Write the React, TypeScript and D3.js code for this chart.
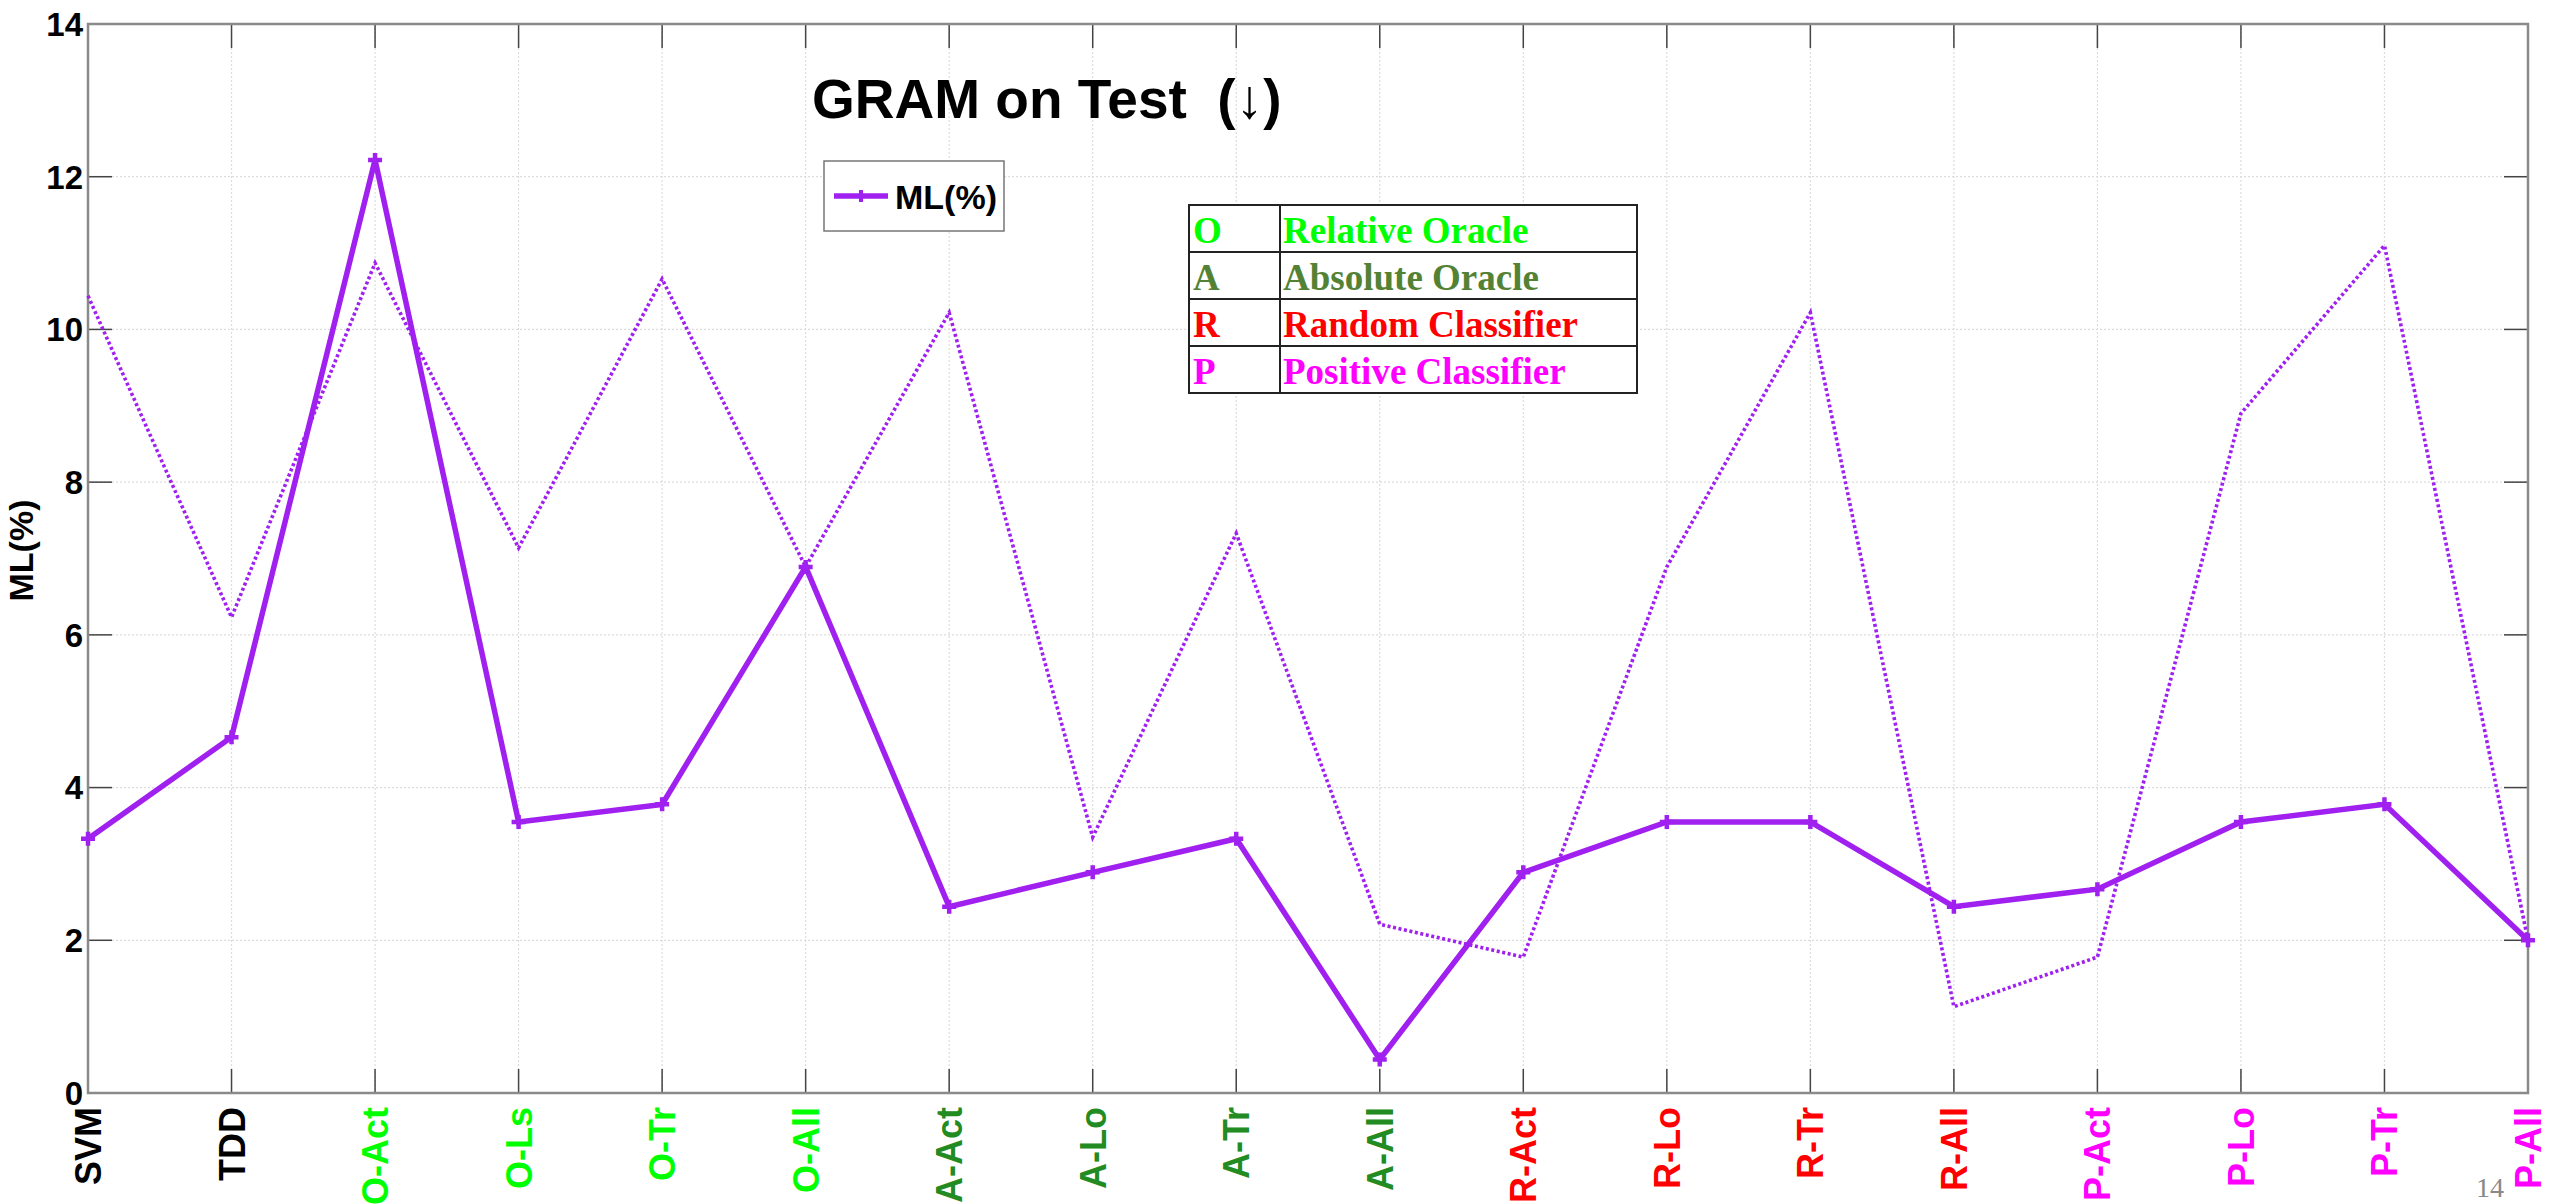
import React from "react";
import * as d3 from "d3";

const categories = ["SVM","TDD","O-Act","O-Ls","O-Tr","O-All","A-Act","A-Lo","A-Tr","A-All","R-Act","R-Lo","R-Tr","R-All","P-Act","P-Lo","P-Tr","P-All"];
const labelGroups = ["base","base","O","O","O","O","A","A","A","A","R","R","R","R","P","P","P","P"];
const mlValues = [3.33,4.66,12.22,3.55,3.78,6.89,2.44,2.89,3.33,0.44,2.89,3.55,3.55,2.44,2.67,3.55,3.78,2.0];
const refValues = [10.44,6.23,10.87,7.14,10.66,6.89,10.22,3.35,7.33,2.21,1.78,6.89,10.22,1.13,1.78,8.9,11.1,2.0];
const yTicks = [0,2,4,6,8,10,12,14];
const tableKeys = ["O","A","R","P"];
const tableNames = ["Relative Oracle","Absolute Oracle","Random Classifier","Positive Classifier"];

const labelColor: Record<string,string> = { base: "#000000", O: "#00FF00", A: "#228B22", R: "#FF0000", P: "#FF00FF" };
const tableColor: Record<string,string> = { O: "#00FF00", A: "#548235", R: "#FF0000", P: "#FF00FF" };
const PURPLE = "#A020F0";

export default function App() {
  const W = 2560, H = 1204;
  const left = 88, right = 2528, top = 24, bottom = 1093;
  const x = d3.scalePoint<string>().domain(categories).range([left, right]);
  const y = d3.scaleLinear().domain([0, 14]).range([bottom, top]);
  const line = d3.line<number>().x((_, i) => x(categories[i])!).y(d => y(d));
  const sans = "Liberation Sans, Arial, sans-serif";
  const serif = "Liberation Serif, Times New Roman, serif";
  const tickLen = 24;
  const rowH = 47;
  const tX0 = 1189, tX1 = 1280, tX2 = 1637, tY0 = 205;
  const plus = (cx: number, cy: number, s: number) => `M${cx - s},${cy}H${cx + s}M${cx},${cy - s}V${cy + s}`;

  return (
    <svg width={W} height={H} style={{ position: "absolute", left: 0, top: 0, background: "#fff" }}>
      <rect x={0} y={0} width={W} height={H} fill="#fff" />
      {/* grid */}
      {categories.map(c => (
        <line key={"gx" + c} x1={x(c)} x2={x(c)} y1={top} y2={bottom} stroke="#dcdcdc" strokeWidth={1.2} strokeDasharray="2,2" />
      ))}
      {yTicks.map(t => (
        <line key={"gy" + t} x1={left} x2={right} y1={y(t)} y2={y(t)} stroke="#dcdcdc" strokeWidth={1.2} strokeDasharray="2,2" />
      ))}
      {/* ticks */}
      {categories.map(c => (
        <g key={"tx" + c}>
          <line x1={x(c)} x2={x(c)} y1={bottom} y2={bottom - tickLen} stroke="#444" strokeWidth={1.5} />
          <line x1={x(c)} x2={x(c)} y1={top} y2={top + tickLen} stroke="#444" strokeWidth={1.5} />
        </g>
      ))}
      {yTicks.map(t => (
        <g key={"ty" + t}>
          <line x1={left} x2={left + tickLen} y1={y(t)} y2={y(t)} stroke="#444" strokeWidth={1.5} />
          <line x1={right} x2={right - tickLen} y1={y(t)} y2={y(t)} stroke="#444" strokeWidth={1.5} />
        </g>
      ))}
      {/* box */}
      <rect x={left} y={top} width={right - left} height={bottom - top} fill="none" stroke="#8a8a8a" strokeWidth={2.5} />
      {/* y tick labels */}
      {yTicks.map(t => (
        <text key={"yl" + t} x={left - 5} y={y(t)} dy="0.36em" textAnchor="end" fontFamily={sans} fontWeight="bold" fontSize={33} fill="#000">{t}</text>
      ))}
      {/* x tick labels */}
      {categories.map((c, i) => (
        <text key={"xl" + c} transform={`translate(${x(c)! + 13},${bottom + 14}) rotate(-90)`} textAnchor="end" fontFamily={sans} fontWeight="bold" fontSize={36} fill={labelColor[labelGroups[i]]}>{c}</text>
      ))}
      {/* y axis label */}
      <text transform={`translate(33,${(top + bottom) / 2 - 8}) rotate(-90)`} textAnchor="middle" fontFamily={sans} fontWeight="bold" fontSize={34} fill="#000">ML(%)</text>
      {/* dotted series */}
      <path d={line(refValues)!} fill="none" stroke={PURPLE} strokeWidth={3.6} strokeDasharray="3,2.6" />
      {/* solid series */}
      <path d={line(mlValues)!} fill="none" stroke={PURPLE} strokeWidth={5.5} strokeLinejoin="miter" />
      {mlValues.map((v, i) => (
        <path key={"m" + i} d={plus(x(categories[i])!, y(v), 7)} stroke={PURPLE} strokeWidth={4.5} fill="none" />
      ))}
      {/* title */}
      <text x={812} y={118} fontFamily={sans} fontWeight="bold" fontSize={55} fill="#000" style={{ whiteSpace: "pre" }}>{"GRAM on Test  (\u2193)"}</text>
      {/* legend */}
      <rect x={824} y={161} width={180} height={70} fill="#fff" stroke="#777" strokeWidth={1.5} />
      <line x1={834} x2={888} y1={196} y2={196} stroke={PURPLE} strokeWidth={5.5} />
      <path d={plus(861, 196, 6)} stroke={PURPLE} strokeWidth={4} fill="none" />
      <text x={895} y={209} fontFamily={sans} fontWeight="bold" fontSize={34} fill="#000">ML(%)</text>
      {/* table */}
      <rect x={tX0} y={tY0} width={tX2 - tX0} height={rowH * 4} fill="#fff" stroke="#222" strokeWidth={2} />
      <line x1={tX1} x2={tX1} y1={tY0} y2={tY0 + rowH * 4} stroke="#222" strokeWidth={2} />
      {tableKeys.map((k, i) => (
        <g key={"row" + k}>
          {i > 0 && <line x1={tX0} x2={tX2} y1={tY0 + rowH * i} y2={tY0 + rowH * i} stroke="#222" strokeWidth={2} />}
          <text x={tX0 + 4} y={tY0 + rowH * i + 38} fontFamily={serif} fontWeight="bold" fontSize={37} fill={tableColor[k]}>{k}</text>
          <text x={tX1 + 3} y={tY0 + rowH * i + 38} fontFamily={serif} fontWeight="bold" fontSize={37} fill={tableColor[k]}>{tableNames[i]}</text>
        </g>
      ))}
      {/* page number */}
      <text x={2476} y={1197} fontFamily={serif} fontSize={28} fill="#888">14</text>
    </svg>
  );
}
